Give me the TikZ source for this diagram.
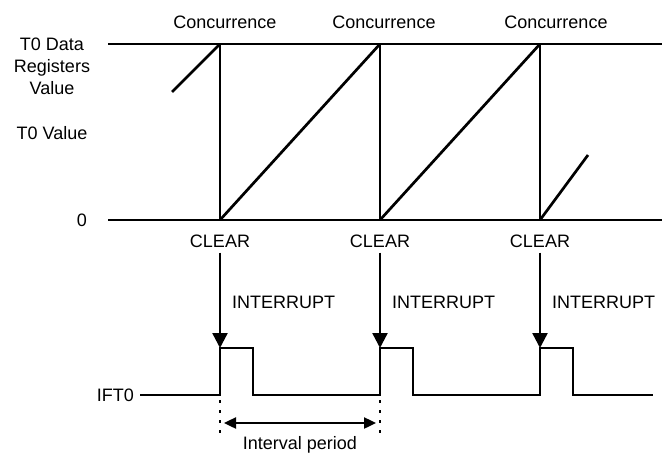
\documentclass[tikz,border=0pt]{standalone}
\usepackage{fontspec}
\setmainfont{Liberation Sans}
\usetikzlibrary{arrows.meta, positioning}

\begin{document}
\begin{tikzpicture}[x=1pt, y=-1pt,
    wave/.style={line width=2.7pt, line join=miter},
    lbl/.style={font=\fontsize{18}{22}\selectfont, inner sep=0pt},
    clear arrow/.style={line width=2.4pt, -{Triangle[length=15pt,width=15pt]}},
    period arrow/.style={line width=2.4pt, {Triangle[length=12pt,width=11pt]}-{Triangle[length=12pt,width=11pt]}},
    marker/.style={line width=2.8pt, dash pattern=on 3pt off 7pt}]
    \useasboundingbox (0,0) rectangle (662,455);

    % left labels
    \node[lbl, align=center] (regval) at (52,66) {T0 Data\\Registers\\Value};
    \node[lbl] (t0val) at (52,133) {T0 Value};
    \node[lbl] (zero) at (82,220) {0};

    % counter levels
    \coordinate (topl) at (108,44);
    \coordinate (topr) at (662,44);
    \coordinate (botl) at (108,220);
    \coordinate (botr) at (662,220);
    \coordinate (c1t) at (220,44);
    \coordinate (c1b) at (220,220);
    \coordinate (c2t) at (380,44);
    \coordinate (c2b) at (380,220);
    \coordinate (c3t) at (540,44);
    \coordinate (c3b) at (540,220);
    \coordinate (rampa) at (172,92);
    \coordinate (rampe) at (588,155);

    \draw[wave] (topl) -- (topr);
    \draw[wave] (botl) -- (botr);
    \draw[wave] (c1t) -- (c1b);
    \draw[wave] (c2t) -- (c2b);
    \draw[wave] (c3t) -- (c3b);
    \draw[wave] (rampa) -- (c1t);
    \draw[wave] (c1b) -- (c2t);
    \draw[wave] (c2b) -- (c3t);
    \draw[wave] (c3b) -- (rampe);

    \node[lbl] (conc1) at (225,22) {Concurrence};
    \node[lbl] (conc2) at (384,22) {Concurrence};
    \node[lbl] (conc3) at (556,22) {Concurrence};

    \node[lbl] (clr1) at (220,241) {CLEAR};
    \node[lbl] (clr2) at (380,241) {CLEAR};
    \node[lbl] (clr3) at (540,241) {CLEAR};

    \node[lbl, anchor=west] (int1) at (232,302) {INTERRUPT};
    \node[lbl, anchor=west] (int2) at (392,302) {INTERRUPT};
    \node[lbl, anchor=west] (int3) at (552,302) {INTERRUPT};

    % interrupt flag
    \node[lbl, anchor=east] (ift) at (134,395) {IFT0};
    \coordinate (p1) at (220,348);
    \coordinate (p2) at (380,348);
    \coordinate (p3) at (540,348);
    \coordinate (iftend) at (653,395);

    \draw[clear arrow] ([yshift=-5pt]clr1.south) -- (p1);
    \draw[clear arrow] ([yshift=-5pt]clr2.south) -- (p2);
    \draw[clear arrow] ([yshift=-5pt]clr3.south) -- (p3);

    \draw[wave] ([xshift=6pt]ift.east) -- (220,395) -- (p1) -- (253,348) -- (253,395)
        -- (380,395) -- (p2) -- (413,348) -- (413,395)
        -- (540,395) -- (p3) -- (573,348) -- (573,395) -- (iftend);

    % interval period
    \coordinate (m1t) at (220,400);
    \coordinate (m1b) at (220,440);
    \coordinate (m2t) at (380,400);
    \coordinate (m2b) at (380,440);
    \draw[marker] (m1t) -- (m1b);
    \draw[marker] (m2t) -- (m2b);
    \draw[period arrow] (224,423) -- (376,423);
    \node[lbl] (period) at (300,445) {Interval period};
\end{tikzpicture}
\end{document}
